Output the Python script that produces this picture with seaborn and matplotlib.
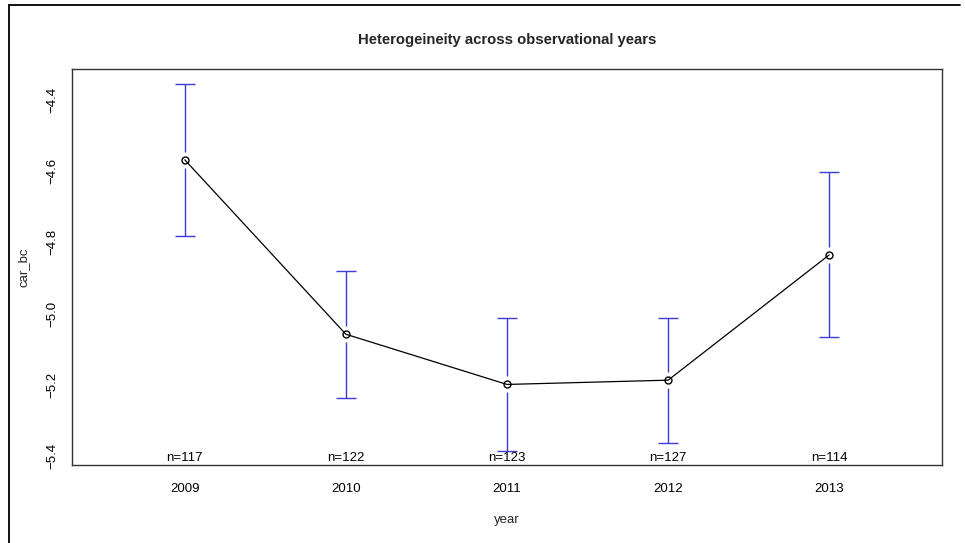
import numpy as np
import pandas as pd
import matplotlib
matplotlib.use("Agg")
import matplotlib.pyplot as plt
import matplotlib.lines as mlines
import matplotlib.transforms as mtransforms
import seaborn as sns

# ---- data ----
years = [2009, 2010, 2011, 2012, 2013]
means = [-4.568, -5.058, -5.199, -5.187, -4.835]
ci_upper = [-4.355, -4.879, -5.013, -5.013, -4.603]
ci_lower = [-4.782, -5.238, -5.385, -5.363, -5.067]
n_obs = [117, 122, 123, 127, 114]
y_ticks = [-5.4, -5.2, -5.0, -4.8, -4.6, -4.4]

df = pd.DataFrame({"year": years, "car_bc": means})

sns.set_style("white")
plt.rcParams["font.family"] = ["Liberation Sans", "DejaVu Sans"]

fig = plt.figure(figsize=(9.65, 5.43), dpi=100)
ax = fig.add_axes([72 / 965, 1 - 465 / 543, (942 - 72) / 965, (465 - 69) / 543])

ax.set_xlim(2008.3, 2013.7)
ax.set_ylim(-5.4253, -4.3129)

# error bars with a gap around each point
fig.canvas.draw()
ypp = (ax.get_ylim()[1] - ax.get_ylim()[0]) / ax.get_window_extent().height
xpp = (ax.get_xlim()[1] - ax.get_xlim()[0]) / ax.get_window_extent().width
gap = 8 * ypp
capw = 10 * xpp
bar_col = "#3b3bd6"
for x, m, lo, hi in zip(years, means, ci_lower, ci_upper):
    ax.vlines(x, m + gap, hi, color=bar_col, lw=1)
    ax.vlines(x, lo, m - gap, color=bar_col, lw=1)
    ax.hlines([hi, lo], x - capw, x + capw, color=bar_col, lw=1)

sns.lineplot(data=df, x="year", y="car_bc", ax=ax, color="black", lw=0.9,
             marker="o", markersize=5, markerfacecolor="none",
             markeredgecolor="black", markeredgewidth=1)

# n= labels
trans = mtransforms.blended_transform_factory(ax.transData, ax.transAxes)
for x, n in zip(years, n_obs):
    ax.text(x, 0.003, f"n={n}", transform=trans, ha="center", va="bottom",
            fontsize=9.5, color="black")

ax.set_xticks(years)
ax.set_xticklabels([str(y) for y in years])
ax.set_yticks(y_ticks)
ax.set_yticklabels([f"{v:.1f}".replace("-", "\u2212") for v in y_ticks],
                   rotation=90, va="center")
ax.tick_params(axis="both", direction="out", length=5, width=0.8,
               colors="#444444", labelcolor="black", labelsize=9.5)
ax.tick_params(axis="x", pad=8)
ax.tick_params(axis="y", pad=5)
for s in ax.spines.values():
    s.set_visible(True)
    s.set_color("#333333")
    s.set_linewidth(1)

ax.set_xlabel("year", fontsize=9.5, labelpad=14)
ax.set_ylabel("car_bc", fontsize=9.5, labelpad=12)
ax.set_title("Heterogeineity across observational years", fontsize=10.7,
             fontweight="bold", pad=18)

# outer frame (top and left)
fig.add_artist(mlines.Line2D([9 / 965, 960 / 965], [1 - 5 / 543, 1 - 5 / 543],
                             transform=fig.transFigure, color="black", lw=1.3))
fig.add_artist(mlines.Line2D([9 / 965, 9 / 965], [0, 1 - 5 / 543],
                             transform=fig.transFigure, color="black", lw=1.3))

fig.savefig("out.png", dpi=100)
